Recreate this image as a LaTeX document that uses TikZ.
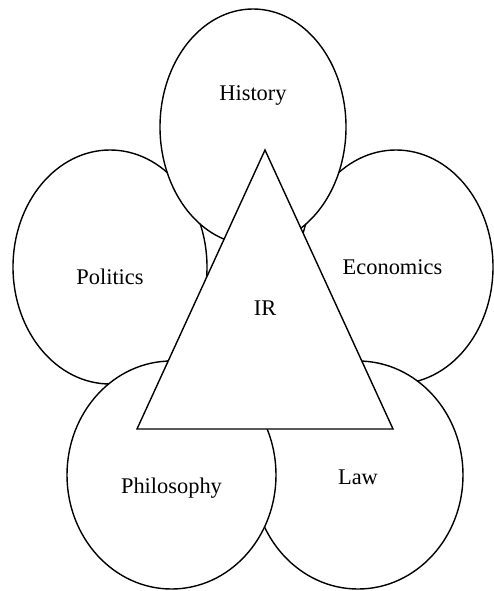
\documentclass[tikz,border=0pt]{standalone}
\usepackage{fontspec}
\setmainfont{Liberation Serif}
\usetikzlibrary{shapes.geometric}
\begin{document}
\begin{tikzpicture}[x=1pt,y=-1pt,
  disc/.style={ellipse, draw=black, fill=white, line width=1.4pt, inner sep=0pt},
  lbl/.style={anchor=base, inner sep=0pt, font=\fontsize{22.4}{26}\selectfont},
  tri/.style={draw=black, fill=white, line width=1.4pt, line join=miter}]
\useasboundingbox (0,0) rectangle (493,591);
% ellipses, back to front
\node[disc, minimum width=194pt, minimum height=234pt] (econ) at (396,267) {};
\node[disc, minimum width=210pt, minimum height=228pt] (law) at (358,475) {};
\node[disc, minimum width=194pt, minimum height=234pt] (pol) at (110,267) {};
\node[disc, minimum width=209pt, minimum height=228pt] (phil) at (171.5,475) {};
\node[disc, minimum width=186pt, minimum height=236pt] (hist) at (253,127) {};
% triangle
\coordinate (apex) at (265,150);
\coordinate (bl) at (137,429);
\coordinate (br) at (393,429);
\draw[tri] (apex) -- (bl) -- (br) -- cycle;
% labels
\node[lbl] (thist) at (253,101) {History};
\node[lbl] (tpol) at (110,284) {Politics};
\node[lbl] (tecon) at (392.5,274) {Economics};
\node[lbl] (tir) at (265,315) {IR};
\node[lbl] (tphil) at (171.5,493) {Philosophy};
\node[lbl] (tlaw) at (358,484) {Law};
\end{tikzpicture}
\end{document}
